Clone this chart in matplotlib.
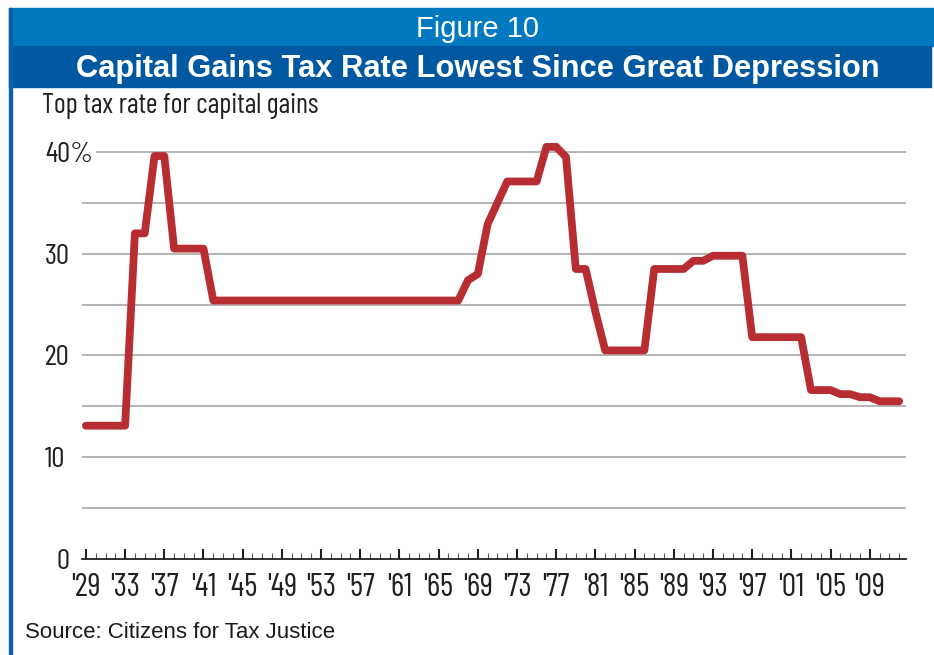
import matplotlib
matplotlib.use("Agg")
import matplotlib.pyplot as plt
from matplotlib.patches import Rectangle
import matplotlib.transforms as mtransforms

years = [1929, 1933, 1934, 1935, 1936, 1937, 1938, 1941, 1942, 1967,
         1968, 1969, 1970, 1971, 1972, 1975, 1976, 1977, 1978, 1979,
         1980, 1981, 1982, 1986, 1987, 1990, 1991, 1992, 1993, 1996,
         1997, 2002, 2003, 2005, 2006, 2007, 2008, 2009, 2010, 2012]
rates = [13.1, 13.1, 32.0, 32.0, 39.6, 39.6, 30.5, 30.5, 25.4, 25.4,
         27.4, 28.0, 32.9, 35.0, 37.1, 37.1, 40.5, 40.5, 39.5, 28.5,
         28.5, 24.3, 20.5, 20.5, 28.5, 28.5, 29.3, 29.3, 29.8, 29.8,
         21.8, 21.8, 16.6, 16.6, 16.2, 16.2, 15.9, 15.9, 15.5, 15.5]
year_ticks = list(range(1929, 2013, 4))
year_labels = ["'%02d" % (y % 100) for y in year_ticks]
rate_ticks = [40, 30, 20, 10]
rate_labels = ["40%", "30", "20", "10"]

COND = ["Barlow Condensed", "DejaVu Sans"]
SANS = ["Liberation Sans", "DejaVu Sans"]
INK = "#231f20"

W, H = 934, 655
fig = plt.figure(figsize=(W / 100, H / 100), dpi=100)
fig.patch.set_facecolor("white")


def px(x0, y0, x1, y1):
    # pixel box (top-left origin) -> figure fraction rect
    return (x0 / W, 1 - y1 / H, (x1 - x0) / W, (y1 - y0) / H)


# header bands and left border
for box, c in [((9, 8, 934, 46), "#0079c1"),
               ((9, 46, 931, 87), "#0059a0"),
               ((9, 8, 12, 655), "#0b5ea8")]:
    l, b, w, h = px(*box)
    fig.patches.append(Rectangle((l, b), w, h, transform=fig.transFigure,
                                 color=c, zorder=0))

fig.text(478 / W, 1 - 29 / H, "Figure 10", color="white", fontsize=21,
         family=SANS, ha="center", va="center")
fig.text(478 / W, 1 - 69.5 / H, "Capital Gains Tax Rate Lowest Since Great Depression",
         color="white", fontsize=22.2, weight="bold", family=SANS,
         ha="center", va="center")
fig.text(42 / W, 1 - 106 / H, "Top tax rate for capital gains", color=INK,
         fontsize=20.3, family=COND, ha="left", va="center")
fig.text(25 / W, 1 - 633 / H, "Source: Citizens for Tax Justice", color="#1a1a1a",
         fontsize=16, family=SANS, ha="left", va="center")

ax = fig.add_axes(px(82, 131.6, 906, 559))
ax.set_xlim(1928.6, 2012.7)
ax.set_ylim(0, 42)
for s in ("top", "right", "left"):
    ax.spines[s].set_visible(False)
ax.spines["bottom"].set_color(INK)
ax.spines["bottom"].set_linewidth(1.3)

for v in range(5, 45, 5):
    ax.axhline(v, color="#b4b4b4", lw=1.4, zorder=1)

ax.plot(years, rates, color="#b72d32", lw=5.6, solid_joinstyle="round",
        solid_capstyle="round", zorder=3)

ax.set_yticks([])
ax.set_xticks(year_ticks)
ax.set_xticklabels(year_labels)
ax.set_xticks(range(1929, 2013), minor=True)
ax.tick_params(axis="x", which="major", direction="in", length=7.5, width=1.5,
               color=INK, pad=10, labelsize=23, labelcolor=INK)
ax.tick_params(axis="x", which="minor", direction="in", length=4.5, width=0.8,
               color="#555555")
for t in ax.get_xticklabels():
    t.set_family(COND)

# y labels sit at the figure's left; nudge down ~3px so digits centre on the line
nudge = mtransforms.ScaledTranslation(0, -3 / 100, fig.dpi_scale_trans)
trans = mtransforms.blended_transform_factory(fig.transFigure, ax.transData) + nudge
for v, lab in zip(rate_ticks, rate_labels):
    ax.text(45 / W, v, lab, transform=trans, ha="left", va="center", fontsize=21,
            color=INK, family=COND, zorder=5,
            bbox=dict(facecolor="white", edgecolor="none", pad=2))
ax.text(57 / W, 0, "0", transform=trans, ha="left", va="center", fontsize=21,
        color=INK, family=COND)

fig.savefig("out.png", dpi=100)
